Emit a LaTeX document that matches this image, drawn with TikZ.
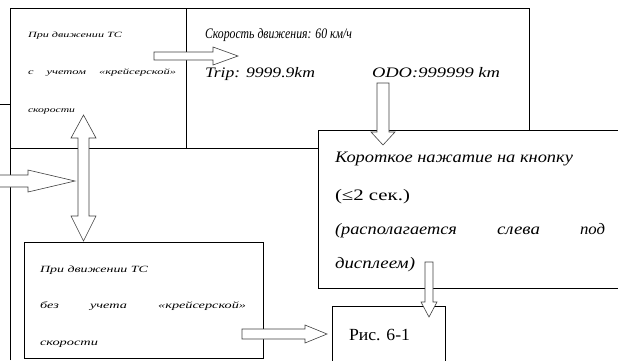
\documentclass[tikz,border=0pt]{standalone}
\usepackage{fontspec}
\setmainfont{Liberation Serif}
\usepackage{graphicx}
\newcommand\fitw[2]{\resizebox{#1}{\height}{#2}}
\newcommand\sxw[2]{\scalebox{#1}[1]{#2}}
\begin{document}
\begin{tikzpicture}[x=1pt,y=-1pt,
  boxline/.style={draw=black,line width=1pt},
  barrow/.style={draw=black!75,fill=white,line width=0.6pt,line join=miter},
  txt/.style={inner sep=0pt,outer sep=0pt,anchor=base west},
  tlfont/.style={font=\fontsize{8}{8}\selectfont\itshape},
  spfont/.style={font=\fontsize{14.5}{15}\selectfont\itshape},
  kofont/.style={font=\fontsize{16}{17}\selectfont\itshape},
  bbfont/.style={font=\fontsize{9.5}{10}\selectfont\itshape},
  rsfont/.style={font=\fontsize{17}{18}\selectfont}]
\useasboundingbox (0,0) rectangle (618,360);
% frame lines
\draw[boxline] (10,360) -- (10,8) -- (529,8) -- (529,130);
\draw[boxline] (0,104) -- (10,104);
\draw[boxline] (186,8) -- (186,148);
\draw[boxline] (10,148) -- (318,148);
\draw[boxline] (620,130) -- (318,130) -- (318,288) -- (620,288);
\draw[boxline] (24,242) rectangle (263,358);
\draw[boxline] (332,362) -- (332,306) -- (445,306) -- (445,362);
% texts: top-left box
\node[txt,tlfont] (tl1) at (28,37) {\fitw{94pt}{При движении ТС}};
\node[txt,tlfont] (tl2) at (28,74) {\makebox[148pt][l]{\sxw{1.56}{с}\hfill\sxw{1.56}{учетом}\hfill\sxw{1.56}{«крейсерской»}}};
\node[txt,tlfont] (tl3) at (28,112) {\fitw{47pt}{скорости}};
% speed box
\node[txt,spfont] (sp1) at (205,38) {\fitw{147pt}{Скорость движения: 60 км/ч}};
\node[txt,spfont] (sp2) at (205,77) {\fitw{110pt}{Trip: 9999.9km}};
\node[txt,spfont] (sp3) at (372,77) {\fitw{128pt}{ODO:999999 km}};
% short press box
\node[txt,kofont] (ko1) at (335,162) {\fitw{238pt}{Короткое нажатие на кнопку}};
\node[txt,font=\fontsize{16}{17}\selectfont] (ko2) at (335,200) {\fitw{75pt}{(≤2 сек.)}};
\node[txt,kofont] (ko3) at (335,234) {\makebox[270pt][l]{\fitw{122pt}{(располагается}\hfill\fitw{43pt}{слева}\hfill\fitw{25pt}{под}}};
\node[txt,kofont] (ko4) at (335,268) {\fitw{80pt}{дисплеем)}};
% bottom box
\node[txt,bbfont] (bb1) at (40,272) {\fitw{108pt}{При движении ТС}};
\node[txt,bbfont] (bb2) at (40,308) {\makebox[206pt][l]{\sxw{1.5}{без}\hfill\sxw{1.5}{учета}\hfill\sxw{1.5}{«крейсерской»}}};
\node[txt,bbfont] (bb3) at (40,345) {\fitw{58pt}{скорости}};
% figure ref
\node[txt,rsfont] (rs) at (349,340) {\fitw{61pt}{Рис. 6-1}};
% block arrows
\draw[barrow] (154,52) -- (213,52) -- (213,47) -- (238,56) -- (213,65) -- (213,60) -- (154,60) -- cycle;
\draw[barrow] (377,83) -- (377,132) -- (371,132) -- (383,145) -- (395,132) -- (389,132) -- (389,83) -- cycle;
\draw[barrow] (83.5,115) -- (96,138) -- (89,138) -- (89,216) -- (96,216) -- (83.5,241) -- (71,216) -- (78,216) -- (78,138) -- (71,138) -- cycle;
\draw[barrow] (-2,175) -- (28,175) -- (28,170) -- (75,181) -- (28,192) -- (28,187) -- (-2,187) -- cycle;
\draw[barrow] (242,329) -- (305,329) -- (305,325) -- (327,334) -- (305,343) -- (305,339) -- (242,339) -- cycle;
\draw[barrow] (425,262) -- (425,302) -- (421,302) -- (429,317) -- (437,302) -- (433,302) -- (433,262) -- cycle;
\end{tikzpicture}
\end{document}
